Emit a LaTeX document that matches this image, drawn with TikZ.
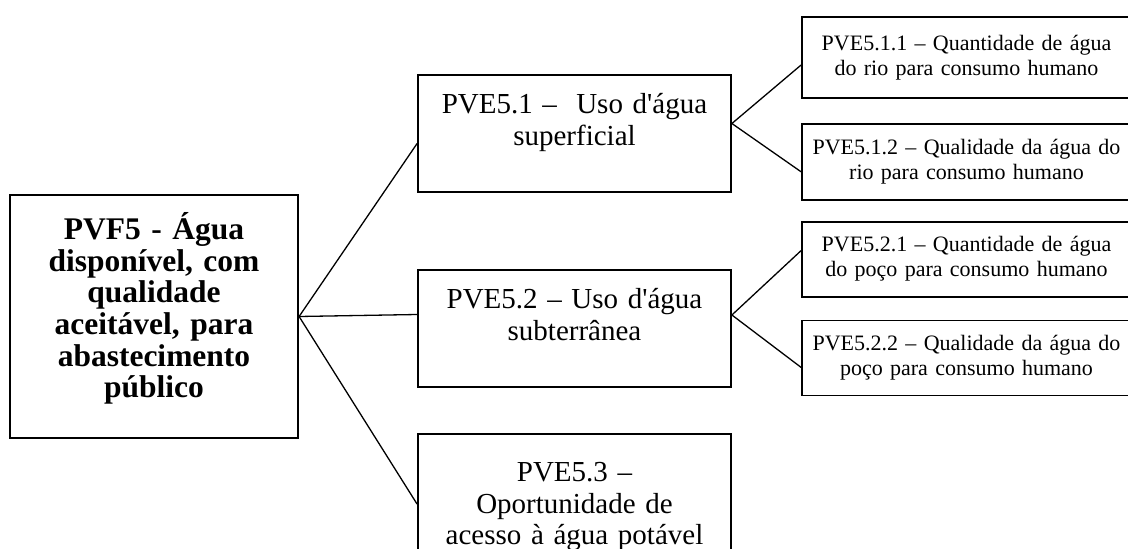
\documentclass[tikz,border=0pt]{standalone}
\usepackage{fontspec}
\setmainfont{Liberation Serif}
\usetikzlibrary{positioning,calc}

\begin{document}
\begin{tikzpicture}[x=1pt, y=-1pt,
        node distance=22pt,
        mainbox/.style={rectangle, draw, line width=2.2pt, minimum width=288pt, minimum height=243pt, inner sep=0pt},
        maintext/.style={text width=270pt, align=center, inner sep=0pt, font=\fontsize{31.5}{31.6}\selectfont\bfseries},
        midbox/.style={rectangle, draw, line width=1.8pt, minimum width=313pt, minimum height=117pt, inner sep=0pt},
        midtext/.style={text width=300pt, align=center, inner sep=0pt, font=\fontsize{29}{31.7}\selectfont},
        subbox/.style={rectangle, draw, line width=1.8pt, minimum width=329pt, text width=315pt, align=center, inner sep=0pt, font=\fontsize{22}{25}\selectfont},
        link/.style={line width=1.3pt}
    ]
    \useasboundingbox (0,0) rectangle (1128,549);
    \clip (0,0) rectangle (1128,549);
    \node[mainbox] (pvf5) at (154,316.5) {};
    \node[maintext, above=8pt of pvf5.center, anchor=center] (pvf5txt) {PVF5 - Água\\disponível, com\\qualidade\\aceitável, para\\abastecimento\\público};
    \node[midbox] (pve51) at (574.5,133.5) {};
    \node[midbox] (pve52) at (574.5,328.5) {};
    \node[midbox] (pve53) at (574.5,492.5) {};
    \node[midtext, below=19pt of pve51.north] (pve51txt) {PVE5.1 –\ \ Uso d\textquotesingle água\\superficial};
    \node[midtext, below=19pt of pve52.north] (pve52txt) {PVE5.2 – Uso d\textquotesingle água\\subterrânea};
    \node[midtext, below=29pt of pve53.north] (pve53txt) {PVE5.3 –\\Oportunidade de\\acesso à água potável};
    \node[subbox, minimum height=81pt] (pve511) at (966.5,57.5) {PVE5.1.1 – Quantidade de água\\do rio para consumo humano};
    \node[subbox, minimum height=76pt, below=24pt of pve511] (pve512) {PVE5.1.2 – Qualidade da água do\\rio para consumo humano};
    \node[subbox, minimum height=75pt, below=20pt of pve512] (pve521) {PVE5.2.1 – Quantidade de água\\do poço para consumo humano};
    \node[subbox, minimum height=75pt, below=22pt of pve521] (pve522) {PVE5.2.2 – Qualidade da água do\\poço para consumo humano};
    \draw[link] (pvf5.east) -- ([yshift=-10pt]pve51.west);
    \draw[link] (pvf5.east) -- ([yshift=14pt]pve52.west);
    \draw[link] (pvf5.east) -- ([yshift=-71pt]pve53.north west);
    \draw[link] ([yshift=10pt]pve51.east) -- ([yshift=-7.5pt]pve511.west);
    \draw[link] ([yshift=10pt]pve51.east) -- ([yshift=-10pt]pve512.west);
    \draw[link] ([yshift=13.5pt]pve52.east) -- ([yshift=8.5pt]pve521.west);
    \draw[link] ([yshift=13.5pt]pve52.east) -- ([yshift=-9.5pt]pve522.west);
\end{tikzpicture}
\end{document}
